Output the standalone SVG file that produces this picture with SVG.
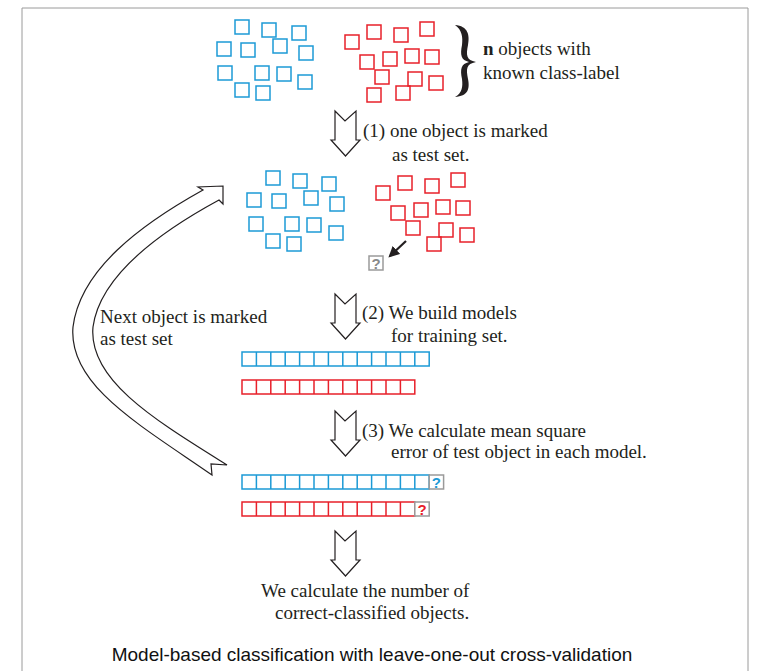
<svg xmlns="http://www.w3.org/2000/svg" xmlns:xlink="http://www.w3.org/1999/xlink" width="765" height="671" viewBox="0 0 765 671">
  <style>
    .b { fill: none; stroke: #1c9ad6; stroke-width: 1.5; }
    .r { fill: none; stroke: #e8202a; stroke-width: 1.5; }
    .g { fill: #fff; stroke: #9a9a9a; stroke-width: 1.5; }
    .t { font-family: "Liberation Serif", "Times New Roman", serif; font-size: 19px; fill: #231f20; }
    .cap { font-family: "Liberation Sans", Arial, sans-serif; font-size: 19px; fill: #111; }
    .q { font-family: "Liberation Sans", Arial, sans-serif; font-size: 15px; font-weight: bold; text-anchor: middle; }
    .blk { fill: #fff; stroke: #231f20; stroke-width: 1.2; stroke-linejoin: miter; }
  </style>
  <defs>
    <rect id="sq" width="14" height="14"/>
    <path id="down" d="M0,0 L10,10 L21,0 L21,29 L25,29 L10.5,45 L-4,29 L0,29 Z"/>
    <marker id="ah" viewBox="0 0 10 10" refX="8" refY="5" markerWidth="5" markerHeight="5" orient="auto">
      <path d="M0,0 L10,5 L0,10 Z" fill="#231f20"/>
    </marker>
  </defs>

  <!-- frame -->
  <path d="M22,680 L22,8 L748,8 L748,680" fill="none" stroke="#9a9a9a" stroke-width="1"/>

  <!-- initial data: blue class -->
  <g id="set-blue">
    <use href="#sq" class="b" x="235" y="20"/><use href="#sq" class="b" x="262" y="23"/>
    <use href="#sq" class="b" x="292" y="26"/><use href="#sq" class="b" x="217" y="42"/>
    <use href="#sq" class="b" x="241" y="43"/><use href="#sq" class="b" x="273" y="39"/>
    <use href="#sq" class="b" x="299" y="46"/><use href="#sq" class="b" x="218" y="66"/>
    <use href="#sq" class="b" x="255" y="66"/><use href="#sq" class="b" x="277" y="67"/>
    <use href="#sq" class="b" x="298" y="75"/><use href="#sq" class="b" x="235" y="83"/>
    <use href="#sq" class="b" x="256" y="86"/>
  </g>
  <!-- initial data: red class -->
  <g id="set-red">
    <use href="#sq" class="r" x="345" y="35"/><use href="#sq" class="r" x="367" y="25"/>
    <use href="#sq" class="r" x="394" y="28"/><use href="#sq" class="r" x="420" y="22"/>
    <use href="#sq" class="r" x="360" y="55"/><use href="#sq" class="r" x="383" y="52"/>
    <use href="#sq" class="r" x="405" y="49"/><use href="#sq" class="r" x="425" y="50"/>
    <use href="#sq" class="r" x="375" y="70"/><use href="#sq" class="r" x="408" y="72"/>
    <use href="#sq" class="r" x="429" y="76"/><use href="#sq" class="r" x="367" y="88"/>
    <use href="#sq" class="r" x="396" y="86"/>
  </g>

  <!-- brace and label -->
  <g id="label-n">
    <path d="M455,25 C468,26 470,35 468,45 C466,55 466,60 476,62 C466,64 466,69 468,79 C470,89 468,96 455,97 C462,93 463,87 462,79 C460,69 461,64 469,62 C461,60 460,55 462,45 C463,37 462,30 455,25 Z" fill="#231f20"/>
    <text class="t" x="483" y="55"><tspan font-weight="bold">n</tspan> objects with</text>
    <text class="t" x="483" y="79">known class-label</text>
  </g>

  <!-- step 1 -->
  <g id="step1">
    <use href="#down" class="blk" x="335" y="111"/>
    <text class="t" x="363" y="137">(1) one object is marked</text>
    <text class="t" x="392" y="161">as test set.</text>
  </g>

  <!-- training set after removing the test object -->
  <g id="train-blue">
    <use href="#sq" class="b" x="266" y="171"/><use href="#sq" class="b" x="293" y="174"/>
    <use href="#sq" class="b" x="322" y="177"/><use href="#sq" class="b" x="247" y="193"/>
    <use href="#sq" class="b" x="272" y="194"/><use href="#sq" class="b" x="304" y="191"/>
    <use href="#sq" class="b" x="330" y="197"/><use href="#sq" class="b" x="249" y="217"/>
    <use href="#sq" class="b" x="285" y="217"/><use href="#sq" class="b" x="307" y="218"/>
    <use href="#sq" class="b" x="329" y="226"/><use href="#sq" class="b" x="266" y="234"/>
    <use href="#sq" class="b" x="287" y="237"/>
  </g>
  <g id="train-red">
    <use href="#sq" class="r" x="376" y="186"/><use href="#sq" class="r" x="398" y="176"/>
    <use href="#sq" class="r" x="425" y="179"/><use href="#sq" class="r" x="451" y="173"/>
    <use href="#sq" class="r" x="391" y="206"/><use href="#sq" class="r" x="414" y="203"/>
    <use href="#sq" class="r" x="436" y="200"/><use href="#sq" class="r" x="456" y="201"/>
    <use href="#sq" class="r" x="406" y="221"/><use href="#sq" class="r" x="439" y="223"/>
    <use href="#sq" class="r" x="460" y="228"/><use href="#sq" class="r" x="427" y="237"/>
  </g>
  <g id="test-object">
    <use href="#sq" class="g" x="369" y="256"/>
    <text class="q" x="376" y="268.5" fill="#8a8a8a">?</text>
  </g>

  <!-- step 2 -->
  <g id="step2">
    <use href="#down" class="blk" x="335" y="294"/>
    <text class="t" x="362" y="319">(2) We build models</text>
    <text class="t" x="391" y="342">for training set.</text>
  </g>

  <!-- models -->
  <g id="model-blue">
    <path class="b" d="M242,352 h187.2 v14 h-187.2 Z M256.4,352 v14 M270.8,352 v14 M285.2,352 v14 M299.6,352 v14 M314,352 v14 M328.4,352 v14 M342.8,352 v14 M357.2,352 v14 M371.6,352 v14 M386,352 v14 M400.4,352 v14 M414.8,352 v14"/>
  </g>
  <g id="model-red">
    <path class="r" d="M242,380 h172.8 v14 h-172.8 Z M256.4,380 v14 M270.8,380 v14 M285.2,380 v14 M299.6,380 v14 M314,380 v14 M328.4,380 v14 M342.8,380 v14 M357.2,380 v14 M371.6,380 v14 M386,380 v14 M400.4,380 v14"/>
  </g>

  <!-- step 3 -->
  <g id="step3">
    <use href="#down" class="blk" x="335" y="411"/>
    <text class="t" x="362" y="437">(3) We calculate mean square</text>
    <text class="t" x="391" y="458">error of test object in each model.</text>
  </g>

  <!-- models with test object -->
  <g id="eval-blue">
    <path class="b" d="M242,475 h187.2 v14 h-187.2 Z M256.4,475 v14 M270.8,475 v14 M285.2,475 v14 M299.6,475 v14 M314,475 v14 M328.4,475 v14 M342.8,475 v14 M357.2,475 v14 M371.6,475 v14 M386,475 v14 M400.4,475 v14 M414.8,475 v14"/>
    <rect class="g" x="429.2" y="475" width="14.4" height="14"/>
    <text class="q" x="436.4" y="487.5" fill="#1c9ad6">?</text>
  </g>
  <g id="eval-red">
    <path class="r" d="M242,502 h172.8 v14 h-172.8 Z M256.4,502 v14 M270.8,502 v14 M285.2,502 v14 M299.6,502 v14 M314,502 v14 M328.4,502 v14 M342.8,502 v14 M357.2,502 v14 M371.6,502 v14 M386,502 v14 M400.4,502 v14"/>
    <rect class="g" x="414.8" y="502" width="14.4" height="14"/>
    <text class="q" x="422" y="514.5" fill="#e8202a">?</text>
  </g>

  <!-- step 4 -->
  <g id="step4">
    <use href="#down" class="blk" x="335" y="531"/>
    <text class="t" x="261" y="597">We calculate the number of</text>
    <text class="t" x="275" y="619">correct-classified objects.</text>
  </g>

  <!-- loop back -->
  <g id="loop">
    <path class="blk" d="M219,200 L223,204 L223,186 L198,187 L203,190 C140,225 80,270 73,327 C68,385 140,425 212,475 L211,464 L227,465 C155,420 88,380 93,327 C100,275 160,232 219,200 Z"/>
    <text class="t" x="100" y="323">Next object is marked</text>
    <text class="t" x="100" y="345">as test set</text>
  </g>

  <!-- connectors -->
  <g id="connectors">
    <line x1="406" y1="241" x2="390" y2="256" stroke="#231f20" stroke-width="2.2" marker-end="url(#ah)"/>
  </g>

  <text class="cap" x="372" y="661" text-anchor="middle">Model-based classification with leave-one-out cross-validation</text>
</svg>
